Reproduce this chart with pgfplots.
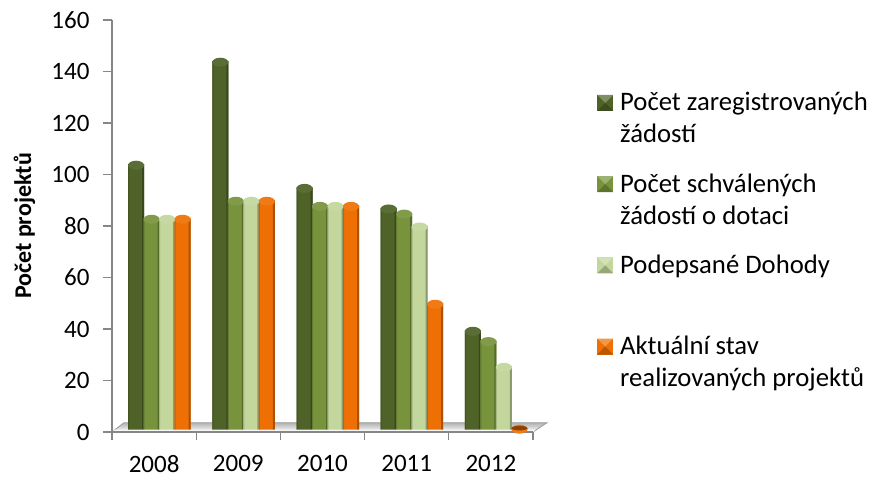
\documentclass[border=0pt]{standalone}
\usepackage{fontspec}
\setmainfont{Carlito}
\usepackage{pgfplots}
\usepackage{pgfplotstable}
\pgfplotsset{compat=1.18}

\definecolor{axisgray}{HTML}{868686}
\definecolor{dkgreen}{HTML}{4F6228}
\definecolor{midgreen}{HTML}{77933C}
\definecolor{ltgreen}{HTML}{C3D69B}
\definecolor{orange1}{HTML}{EE7005}

\pgfdeclareplotmark{barcap}{%
  \pgfpathellipse{\pgfpointorigin}{\pgfqpoint{\pgfplotmarksize}{0pt}}{\pgfqpoint{0pt}{4.5pt}}%
  \pgfusepathqfill}

\pgfplotstableread{
x a b c d
0 104 83 83 83
1 144 90 90 90
2 95 88 88 88
3 87 85 80 50
4 39.5 35.5 25.5 1.5
}\projekty

% legend swatch: small pyramid square
\newcommand{\swatch}[3]{%
  \fill[#3] (0pt,0pt) rectangle (16pt,16pt);
  \fill[#2] (0pt,0pt) -- (16pt,0pt) -- (8pt,8pt) -- cycle;
  \fill[#1] (0pt,16pt) -- (16pt,16pt) -- (8pt,8pt) -- cycle;
}
\newcommand{\legtext}[1]{\parbox[t]{260pt}{\raggedright\setlength{\baselineskip}{32pt}#1}}

% one series: column, colour, body shift, left strip shift, right strip shift, legend text
\newcommand{\barseries}[6]{%
  \addplot[draw=none, fill=#2, bar width=16pt, bar shift=#3pt, mark=barcap,
    mark options={draw=none, fill=#2!93!white, xshift=#3pt, yshift=-1pt},
    legend image code/.code={\swatch{#2!72!white}{#2!78!black}{#2}}]
    table[x=x, y=#1] {\projekty};
  \addlegendentry{\legtext{#6}}
  \addplot[forget plot, draw=none, fill=#2!85!black, bar width=1pt, bar shift=#4pt] table[x=x, y=#1] {\projekty};
  \addplot[forget plot, draw=none, fill=#2!72!black, bar width=2pt, bar shift=#5pt] table[x=x, y=#1] {\projekty};
}

\begin{document}
\begin{tikzpicture}
\path[use as bounding box] (-112pt,-46pt) rectangle (757pt,432pt);
\begin{axis}[
    at={(0pt,0pt)}, anchor=south west,
    scale only axis, width=421pt, height=412pt,
    xmin=-0.5, xmax=4.5, ymin=0, ymax=160,
    clip=false, axis on top,
    axis x line*=bottom, axis y line*=left,
    axis line style={axisgray, line width=1.3pt, -},
    xtick={0,1,2,3,4},
    xticklabels={2008,2009,2010,2011,2012},
    minor xtick={-0.5,0.5,1.5,2.5,3.5,4.5},
    ytick={0,20,...,160},
    tick align=outside,
    major tick length=9pt, minor tick length=8pt,
    x tick style={draw=none},
    minor x tick style={draw=axisgray, line width=1.3pt},
    y tick style={draw=axisgray, line width=1.3pt},
    tick label style={font=\fontsize{25}{30}\selectfont},
    /pgf/number format/assume math mode=true,
    xticklabel style={inner sep=0pt, yshift=-14.5pt},
    yticklabel style={xshift=-10pt},
    ylabel={\fontsize{24}{28}\selectfont\bfseries Počet projektů},
    ylabel style={at={(axis description cs:-0.208,0.5)}, anchor=center},
    legend style={at={(1.152,0.825)}, anchor=north west, draw=none, fill=none,
      inner sep=0pt, row sep=61.2pt, column sep=7pt,
      font=\fontsize{26.7}{32}\selectfont,
      nodes={inner sep=0pt, anchor=base west}},
    legend cell align=left,
    mark size=8pt,
    ybar,
]
% floor
\addplot[forget plot, no marks, sharp plot, draw=none, top color=gray!60, bottom color=white]
  coordinates {(-0.5,0) (4.5,0) (4.666,3.6) (-0.357,3.6) (-0.5,0)};
\addplot[forget plot, no marks, sharp plot, draw=axisgray!80, line width=0.9pt]
  coordinates {(-0.5,0) (-0.357,3.6) (4.666,3.6) (4.5,0)};

\barseries{a}{dkgreen}{-18}{-25.5}{-11}{Počet zaregistrovaných\\žádostí}
\barseries{b}{midgreen}{-2.5}{-10}{4.5}{Počet schválených\\žádostí o dotaci}
\barseries{c}{ltgreen}{13}{5.5}{20}{Podepsané Dohody}
\barseries{d}{orange1}{28.5}{21}{35.5}{Aktuální stav\\realizovaných projektů}

% front strip of the floor hides the bar feet
\addplot[forget plot, no marks, sharp plot, draw=none, fill=white!94!gray]
  coordinates {(-0.5,0) (4.5,0) (4.53,0.9) (-0.47,0.9) (-0.5,0)};
% the zero bar of 2012 shows only as a dark disc on the floor
\addplot[forget plot, only marks, mark=barcap, mark options={draw=none, fill=orange1!60!black, xshift=28.5pt, yscale=0.5}]
  coordinates {(4,1.5)};
\end{axis}
\end{tikzpicture}
\end{document}
